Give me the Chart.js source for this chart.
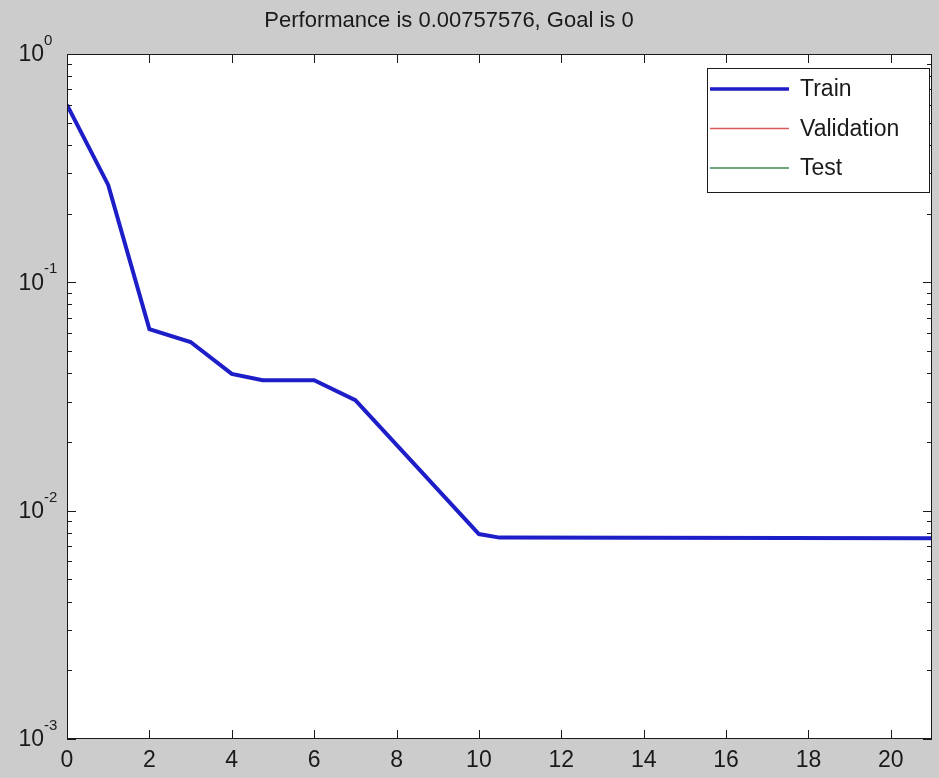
<!DOCTYPE html>
<html lang="en">
  <head>
    <meta charset="UTF-8" />
    <title>Performance</title>
    <script src="https://cdn.jsdelivr.net/npm/chart.js"></script>
    <style>
      html,
      body {
        margin: 0;
        padding: 0;
        background-color: #cccccc;
      }
    </style>
  </head>
  <body>
    <canvas id="perfChart" width="939" height="778"></canvas>
    <script>
      // values
      const epochs = [0, 1, 2, 3, 4, 4.75, 6, 7, 10, 10.5, 21];
      const trainPerf = [0.598, 0.267, 0.0624, 0.0548, 0.0397, 0.0373, 0.0373, 0.0305, 0.0079, 0.00762, 0.00757576];
      const validationPerf = [];
      const testPerf = [];
      const seriesNames = ["Train", "Validation", "Test"];
      const seriesColors = ["#1e1ec8", "#d85a5a", "#3a8a4a"];
      const yDecades = [0.001, 0.01, 0.1, 1];
      const yExponents = ["-3", "-2", "-1", "0"];
      const titleText = "Performance is 0.00757576, Goal is 0";

      const FONT = '"Liberation Sans", Arial, sans-serif';
      const INK = "#1a1a1a";

      // figure background, white axes, box with inward ticks, y labels, legend, title
      const matlabLook = {
        id: "matlabLook",
        beforeDraw(chart) {
          const { ctx, chartArea: a } = chart;
          ctx.save();
          ctx.fillStyle = "#cccccc";
          ctx.fillRect(0, 0, chart.width, chart.height);
          ctx.fillStyle = "#ffffff";
          ctx.fillRect(a.left, a.top, a.right - a.left, a.bottom - a.top);
          ctx.restore();
        },
        afterDraw(chart) {
          const { ctx, chartArea: a } = chart;
          const xs = chart.scales.x;
          const ys = chart.scales.y;
          ctx.save();
          ctx.strokeStyle = INK;
          ctx.lineWidth = 1;

          // box
          ctx.strokeRect(a.left + 0.5, a.top + 0.5, a.right - a.left - 1, a.bottom - a.top - 1);

          // x ticks top and bottom
          ctx.beginPath();
          xs.ticks.forEach((t) => {
            const px = Math.round(xs.getPixelForValue(t.value)) + 0.5;
            ctx.moveTo(px, a.bottom);
            ctx.lineTo(px, a.bottom - 9);
            ctx.moveTo(px, a.top);
            ctx.lineTo(px, a.top + 9);
          });

          // y ticks left and right, major + minor
          yDecades.forEach((d, i) => {
            const py = Math.round(ys.getPixelForValue(d)) + 0.5;
            ctx.moveTo(a.left, py);
            ctx.lineTo(a.left + 9, py);
            ctx.moveTo(a.right, py);
            ctx.lineTo(a.right - 9, py);
            if (i < yDecades.length - 1) {
              for (let m = 2; m <= 9; m++) {
                const my = Math.round(ys.getPixelForValue(d * m)) + 0.5;
                ctx.moveTo(a.left, my);
                ctx.lineTo(a.left + 5, my);
                ctx.moveTo(a.right, my);
                ctx.lineTo(a.right - 5, my);
              }
            }
          });
          ctx.stroke();

          // y labels 10^k
          ctx.fillStyle = INK;
          yDecades.forEach((d, i) => {
            const py = ys.getPixelForValue(d);
            ctx.font = "23px " + FONT;
            ctx.textAlign = "right";
            ctx.textBaseline = "middle";
            ctx.fillText("10", 44, py + 1);
            ctx.font = "15px " + FONT;
            ctx.textAlign = "left";
            ctx.fillText(yExponents[i], 44, py - 13);
          });

          // title
          ctx.font = "22px " + FONT;
          ctx.textAlign = "center";
          ctx.textBaseline = "middle";
          ctx.fillText(titleText, 449, 21);

          // legend box
          const lx = 707, ly = 68, lw = 222, lh = 124;
          ctx.fillStyle = "#ffffff";
          ctx.fillRect(lx, ly, lw, lh);
          ctx.strokeRect(lx + 0.5, ly + 0.5, lw, lh);
          chart.data.datasets.forEach((ds, i) => {
            const rowY = ly + 21 + i * 39.5;
            ctx.strokeStyle = ds.borderColor;
            ctx.lineWidth = i === 0 ? 3.5 : 1.5;
            ctx.beginPath();
            ctx.moveTo(lx + 3, rowY);
            ctx.lineTo(lx + 82, rowY);
            ctx.stroke();
            ctx.fillStyle = INK;
            ctx.font = "23px " + FONT;
            ctx.textAlign = "left";
            ctx.textBaseline = "middle";
            ctx.fillText(ds.label, lx + 93, rowY + 1);
          });
          ctx.restore();
        },
      };

      const toPoints = (xv, yv) => yv.map((v, i) => ({ x: xv[i], y: v }));

      new Chart(document.getElementById("perfChart").getContext("2d"), {
        type: "line",
        data: {
          datasets: [
            {
              label: seriesNames[0],
              data: toPoints(epochs, trainPerf),
              borderColor: seriesColors[0],
              borderWidth: 4,
              pointRadius: 0,
              tension: 0,
            },
            {
              label: seriesNames[1],
              data: validationPerf,
              borderColor: seriesColors[1],
              borderWidth: 1.5,
              pointRadius: 0,
            },
            {
              label: seriesNames[2],
              data: testPerf,
              borderColor: seriesColors[2],
              borderWidth: 1.5,
              pointRadius: 0,
            },
          ],
        },
        options: {
          responsive: false,
          animation: false,
          devicePixelRatio: 1,
          layout: { padding: { top: 54, right: 7, left: 0, bottom: 0 } },
          plugins: { legend: { display: false }, tooltip: { enabled: false } },
          scales: {
            x: {
              type: "linear",
              min: 0,
              max: 21,
              grid: { display: false, drawTicks: false },
              border: { display: false },
              ticks: {
                stepSize: 2,
                includeBounds: false,
                color: INK,
                padding: 8,
                maxRotation: 0,
                font: { family: FONT, size: 23 },
              },
              afterFit(scale) {
                scale.height = 39;
              },
            },
            y: {
              type: "logarithmic",
              min: 0.001,
              max: 1,
              grid: { display: false, drawTicks: false },
              border: { display: false },
              ticks: { display: false },
              afterFit(scale) {
                scale.width = 67;
              },
            },
          },
        },
        plugins: [matlabLook],
      });
    </script>
  </body>
</html>
